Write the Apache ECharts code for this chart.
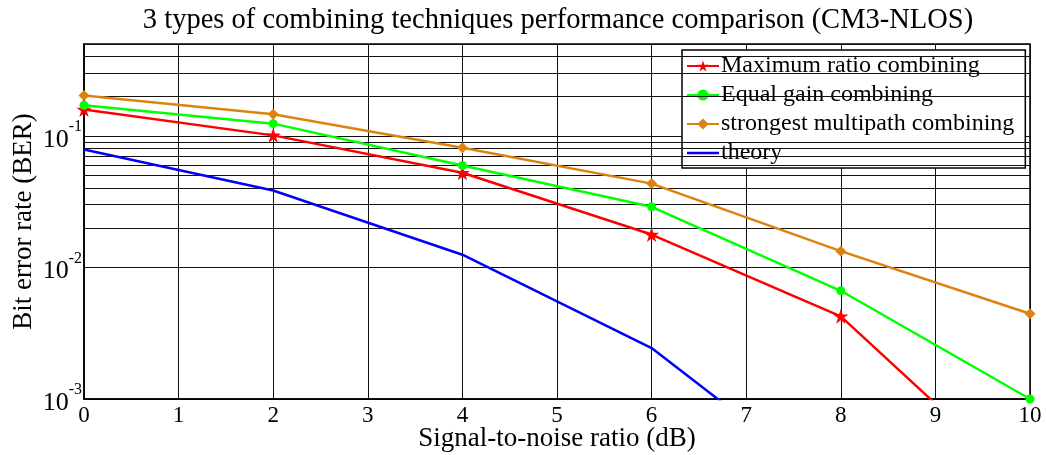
<!DOCTYPE html>
<html>
<head>
<meta charset="utf-8">
<script src="https://cdn.jsdelivr.net/npm/echarts@6/dist/echarts.min.js"></script>
<style>
  html, body { margin: 0; padding: 0; background: #fff; }
  #chart { width: 1046px; height: 455px; }
</style>
</head>
<body>
<div id="chart"></div>
<script>
// SNR points (dB)
const snr = [0, 2, 4, 6, 8, 10];
const snrTheory = [0, 2, 4, 6, 8];

// Bit error rates for each combining scheme
const berMRC = [0.159, 0.101, 0.0525, 0.0178, 0.00425, 0.0002];
const berEGC = [0.171, 0.124, 0.0596, 0.0289, 0.00665, 0.001];
const berSMC = [0.203, 0.146, 0.0813, 0.0434, 0.0133, 0.00445];
const berTheory = [0.0789, 0.0385, 0.0125, 0.00244, 0.00019];

// Axis settings
const xTicks = [0, 1, 2, 3, 4, 5, 6, 7, 8, 9, 10];
const yDecades = [0.001, 0.01, 0.1];
const yMin = 0.001, yMax = 0.5;
// Intermediate log grid lines (2..9 within each decade)
const yMinorGrid = [
  0.002, 0.003, 0.004, 0.005, 0.006, 0.007, 0.008, 0.009,
  0.02, 0.03, 0.04, 0.05, 0.06, 0.07, 0.08, 0.09,
  0.2, 0.3, 0.4
];

const seriesNames = [
  'Maximum ratio combining',
  'Equal gain combining',
  'strongest multipath combining',
  'theory'
];

const FONT = '"Liberation Serif", "Times New Roman", serif';
const STAR = 'path://M50,0 L61.8,35.3 L98.9,35.3 L69,57.2 L80.4,92.7 L50,71 L19.6,92.7 L31,57.2 L1.1,35.3 L38.2,35.3 Z';
// Plain line legend icon (tiny corner specks fix the bounding box to 32x14)
const LINE_ICON = 'path://M0,0 L0.01,0 L0.01,0.01 L0,0.01 Z M0,5.8 L32,5.8 L32,8.2 L0,8.2 Z M15,6.2 L17,6.2 L17,7.8 L15,7.8 Z M31.99,13.99 L32,13.99 L32,14 L31.99,14 Z';

const pairs = (xs, ys) => xs.map((x, i) => [x, ys[i]]);

const chart = echarts.init(document.getElementById('chart'), null, { renderer: 'canvas' });

chart.setOption({
  animation: false,
  backgroundColor: '#fff',
  title: {
    text: '3 types of combining techniques performance comparison (CM3-NLOS)',
    left: 553,
    textAlign: 'center',
    top: 1,
    textStyle: { fontFamily: FONT, fontSize: 28.5, fontWeight: 'normal', color: '#000' }
  },
  grid: {
    left: 84, right: 16, top: 44, bottom: 56,
    containLabel: false,
    outerBoundsMode: 'none',
    show: true, borderColor: '#000', borderWidth: 1.5, backgroundColor: '#fff'
  },
  legend: {
    data: [
      { name: seriesNames[0] },
      { name: seriesNames[1] },
      { name: seriesNames[2] },
      { name: seriesNames[3], icon: LINE_ICON }
    ],
    orient: 'vertical',
    left: 682, top: 50,
    itemWidth: 32, itemHeight: 14, itemGap: 5,
    padding: [4, 11, 3, 4],
    backgroundColor: '#fff',
    borderColor: '#000', borderWidth: 1.5,
    textStyle: { fontFamily: FONT, fontSize: 24, color: '#000', padding: [0, 0, 0, -3] }
  },
  xAxis: {
    type: 'value',
    min: xTicks[0], max: xTicks[xTicks.length - 1], interval: 1,
    name: 'Signal-to-noise ratio (dB)',
    nameLocation: 'middle', nameGap: 26,
    nameMoveOverlap: false,
    nameTextStyle: { fontFamily: FONT, fontSize: 27, color: '#000' },
    axisLine: { lineStyle: { color: '#000', width: 1.5 } },
    axisTick: { show: false },
    axisLabel: { fontFamily: FONT, fontSize: 23, color: '#000', margin: 5 },
    splitLine: { show: true, lineStyle: { color: '#111', width: 1 } }
  },
  yAxis: {
    type: 'log', logBase: 10,
    min: yMin, max: yMax,
    name: 'Bit error rate (BER)',
    nameLocation: 'middle', nameGap: 47,
    nameMoveOverlap: false,
    nameTextStyle: { fontFamily: FONT, fontSize: 27, color: '#000' },
    axisLine: { lineStyle: { color: '#000', width: 1.5 } },
    axisTick: { show: false },
    axisLabel: {
      margin: 2,
      formatter: function (v) {
        const e = Math.round(Math.log10(v));
        const hit = yDecades.some(d => Math.abs(d - v) / d < 1e-6);
        return hit ? '{b|10}{s|-' + Math.abs(e) + '}' : '';
      },
      rich: {
        b: { fontFamily: FONT, fontSize: 26, color: '#000', lineHeight: 34, verticalAlign: 'bottom', padding: [10, 0, 0, 0] },
        s: { fontFamily: FONT, fontSize: 16, color: '#000', lineHeight: 34, verticalAlign: 'top', padding: [0, 0, 10, 0] }
      }
    },
    splitLine: { show: true, lineStyle: { color: '#111', width: 1 } }
  },
  series: [
    {
      name: 'log-grid',
      type: 'line',
      data: [],
      silent: true,
      z: 1,
      markLine: {
        silent: true,
        symbol: ['none', 'none'],
        label: { show: false },
        lineStyle: { color: '#111', width: 1, type: 'solid' },
        emphasis: { disabled: true },
        data: yMinorGrid.map(v => ({ yAxis: v }))
      }
    },
    {
      name: seriesNames[0],
      type: 'line', z: 5,
      data: pairs(snr, berMRC),
      color: '#ff0000',
      symbol: STAR, symbolSize: 15, showAllSymbol: true,
      lineStyle: { width: 2.5 },
      itemStyle: { color: '#ff0000' }
    },
    {
      name: seriesNames[1],
      type: 'line', z: 5,
      data: pairs(snr, berEGC),
      color: '#00ff00',
      symbol: 'circle', symbolSize: 9,
      lineStyle: { width: 2.5 },
      itemStyle: { color: '#00ff00' }
    },
    {
      name: seriesNames[2],
      type: 'line', z: 5,
      data: pairs(snr, berSMC),
      color: '#dc820e',
      symbol: 'diamond', symbolSize: 11,
      lineStyle: { width: 2.5 },
      itemStyle: { color: '#dc820e' }
    },
    {
      name: seriesNames[3],
      type: 'line', z: 5,
      data: pairs(snrTheory, berTheory),
      color: '#0000ff',
      symbol: 'none',
      lineStyle: { width: 2.5 },
      itemStyle: { color: '#0000ff' }
    }
  ]
});
</script>
</body>
</html>
